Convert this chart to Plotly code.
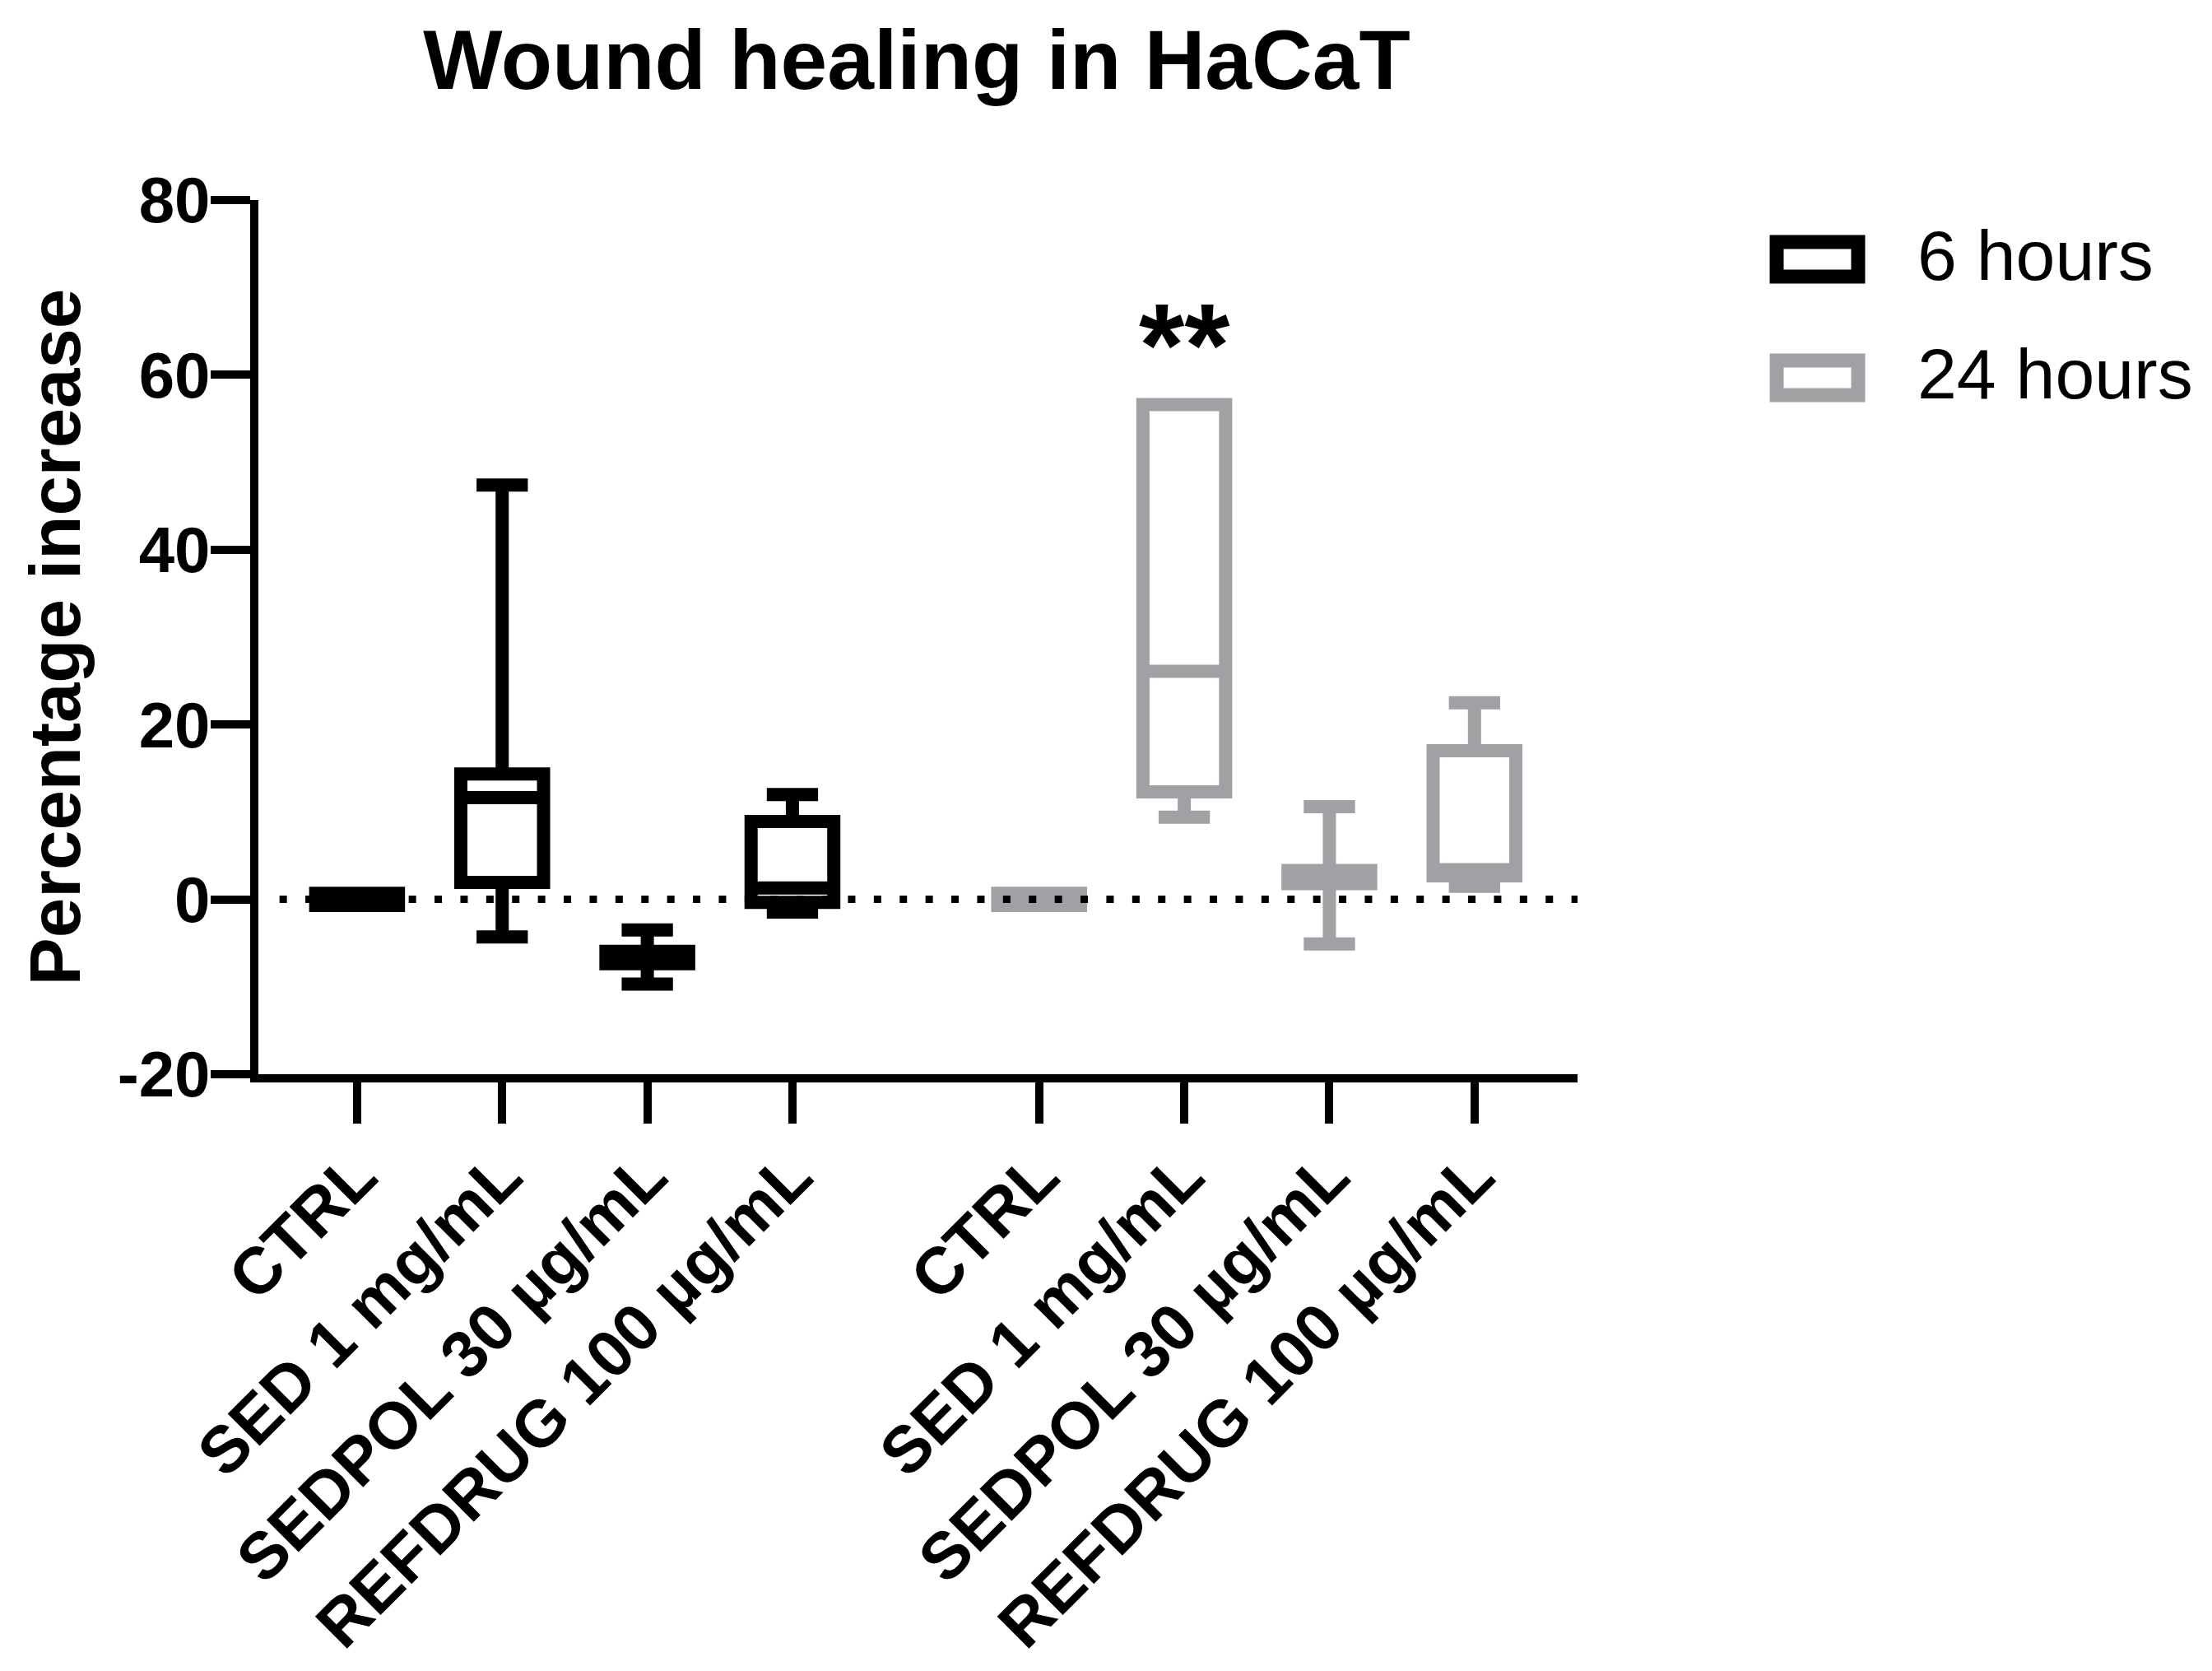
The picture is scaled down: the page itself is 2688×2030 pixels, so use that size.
import plotly.graph_objects as go

# Wound healing in HaCaT cells: percentage increase, box summaries per treatment
categories = ["CTRL", "SED 1 mg/mL", "SEDPOL 30 µg/mL", "REFDRUG 100 µg/mL"]
positions_6h = [0, 1, 2, 3]
positions_24h = [4.7, 5.7, 6.7, 7.7]

# 6 hours
q1_6h = [-0.7, 1.95, -7.35, -0.35]
median_6h = [0.0, 11.65, -6.6, 1.3]
q3_6h = [0.7, 14.35, -5.95, 8.9]
low_6h = [-0.7, -4.3, -9.7, -1.45]
high_6h = [0.7, 47.4, -3.5, 12.0]

# 24 hours
q1_24h = [-0.7, 12.3, 1.8, 2.7]
median_24h = [0.0, 26.1, 2.6, 3.4]
q3_24h = [0.7, 56.6, 3.3, 17.0]
low_24h = [-0.7, 9.4, -5.1, 1.5]
high_24h = [0.7, 56.6, 10.6, 22.5]

# significance mark above SED 1 mg/mL at 24 h
sig_x = 5.7
sig_y = 64.6
sig_text = "**"

y_ticks = [-20, 0, 20, 40, 60, 80]
y_tick_text = ["-20", "0", "20", "40", "60", "80"]

BLACK = "#000000"
GREY = "#A1A0A5"
FONT = "Liberation Sans, Arial, sans-serif"

fig = go.Figure()

for name, pos, q1, med, q3, lo, hi, col in [
    ("6 hours", positions_6h, q1_6h, median_6h, q3_6h, low_6h, high_6h, BLACK),
    ("24 hours", positions_24h, q1_24h, median_24h, q3_24h, low_24h, high_24h, GREY),
]:
    fig.add_trace(go.Box(
        name=name,
        x=pos,
        q1=q1, median=med, q3=q3,
        lowerfence=lo, upperfence=hi,
        boxpoints=False,
        width=0.57,
        whiskerwidth=0.62,
        line=dict(color=col, width=16),
        fillcolor="rgba(0,0,0,0)",
        showlegend=False,
        hoverinfo="skip",
    ))

fig.add_annotation(
    x=sig_x, y=sig_y, text=sig_text, showarrow=False,
    font=dict(family=FONT, size=142, color=BLACK, weight="bold"),
    xanchor="center", yanchor="middle", yshift=-12,
)

# dotted zero reference line
fig.add_shape(
    type="line", xref="paper", yref="y",
    x0=0.016, x1=1.0, y0=0, y1=0,
    line=dict(color=BLACK, width=9, dash="9px,22.4px"),
    layer="above",
)

# hand-built legend
W, H = 2688, 2030
L, R, T, B = 314, 1917, 243, 1305
pw, ph = R - L, B - T


def px(x):
    return (x - L) / pw


def py(y):
    return (B - y) / ph


for label, col, y0, y1 in [("6 hours", BLACK, 294, 336), ("24 hours", GREY, 438, 480)]:
    fig.add_shape(
        type="rect", xref="paper", yref="paper",
        x0=px(2159), x1=px(2258), y0=py(y1), y1=py(y0),
        line=dict(color=col, width=17), fillcolor="rgba(0,0,0,0)",
    )
    fig.add_annotation(
        xref="paper", yref="paper", x=px(2328), y=py((y0 + y1) / 2 - 5),
        text=label, showarrow=False, xanchor="left", yanchor="middle",
        font=dict(family=FONT, size=86, color=BLACK),
    )

fig.update_layout(
    width=W, height=H,
    margin=dict(l=L, r=W - R, t=T, b=H - B, pad=0),
    paper_bgcolor="white", plot_bgcolor="white",
    boxmode="overlay",
    title=dict(
        text="Wound healing in HaCaT",
        x=px(1114), xref="paper", xanchor="center",
        y=1 - 72 / H, yref="container", yanchor="middle",
        font=dict(family=FONT, size=102, color=BLACK, weight="bold"),
    ),
    xaxis=dict(
        range=[-0.68, 8.41],
        tickmode="array",
        tickvals=positions_6h + positions_24h,
        ticktext=categories + categories,
        tickangle=-45,
        tickfont=dict(family=FONT, size=80, color=BLACK, weight="bold"),
        ticklabelstandoff=-16,
        showline=True, linecolor=BLACK, linewidth=10,
        ticks="outside", ticklen=50, tickwidth=10, tickcolor=BLACK,
        showgrid=False, zeroline=False,
    ),
    yaxis=dict(
        range=[-20, 80],
        tickmode="array",
        tickvals=y_ticks,
        ticktext=y_tick_text,
        tickfont=dict(family=FONT, size=78, color=BLACK, weight="bold"),
        ticklabelstandoff=-15,
        showline=True, linecolor=BLACK, linewidth=10,
        ticks="outside", ticklen=48, tickwidth=10, tickcolor=BLACK,
        showgrid=False, zeroline=False,
        title=dict(
            text="Percentage increase",
            font=dict(family=FONT, size=87, color=BLACK, weight="bold"),
            standoff=20,
        ),
    ),
)

fig.write_html("out.html")
